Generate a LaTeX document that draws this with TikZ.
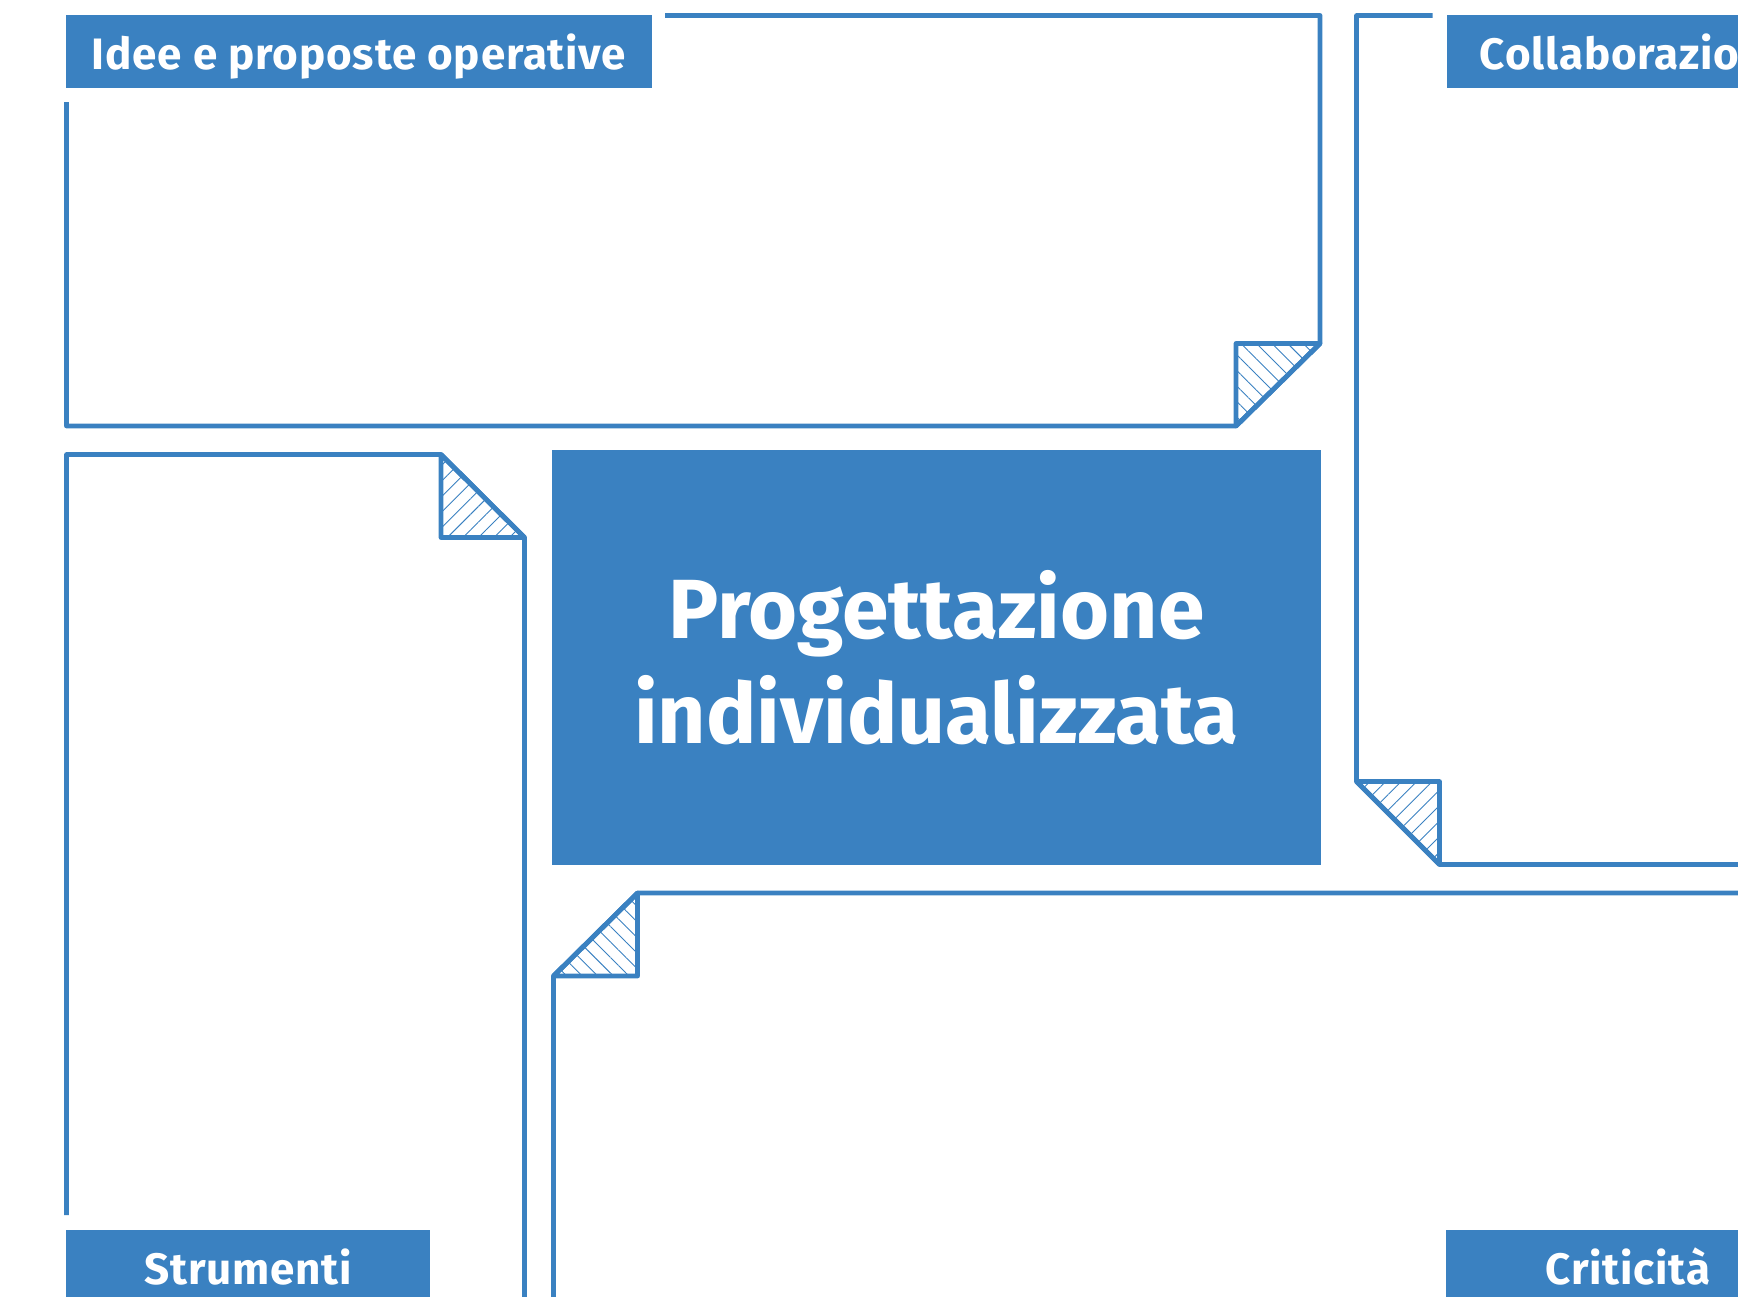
\documentclass[tikz,border=0pt]{standalone}
\usepackage{fontspec}
\setmainfont{Fira Sans}
\newfontfamily\tagfont{Fira Sans}[LetterSpace=1.8]
\usepackage{xcolor}
\usetikzlibrary{positioning, patterns.meta}
\definecolor{planblue}{RGB}{58,129,193}

\begin{document}
\begin{tikzpicture}[x=0.5pt, y=-0.5pt,
    sheet/.style={draw=planblue, line width=2.4pt, line join=round},
    corner/.style={sheet, pattern={Lines[angle=#1, distance=5.5pt, line width=0.45pt]}, pattern color=planblue},
    tag/.style={fill=planblue, text=white, inner sep=0pt, minimum height=36.5pt,
        text height=20pt, text depth=2pt, font=\tagfont\fontsize{22}{26}\selectfont\bfseries},
    ]
    \useasboundingbox (0,0) rectangle (1738,1296);
    \clip (0,0) rectangle (1738,1296);

    % top sheet
    \draw[sheet] (665,15.5) -- (1320,15.5) -- (1320,343.5) -- (1236,426) -- (66.5,426) -- (66.5,102);
    \draw[corner=-45] (1320,343.5) -- (1236,343.5) -- (1236,426) -- cycle;

    % left sheet
    \draw[sheet] (66.5,1215) -- (66.5,454.5) -- (441,454.5) -- (524.5,537.5) -- (524.5,1310);
    \draw[corner=45] (441,454.5) -- (441,537.5) -- (524.5,537.5) -- cycle;

    % right sheet
    \draw[sheet] (1432.5,15.5) -- (1356.5,15.5) -- (1356.5,781.5) -- (1439.5,864.5) -- (1760,864.5);
    \draw[corner=45] (1356.5,781.5) -- (1439.5,781.5) -- (1439.5,864.5) -- cycle;

    % bottom sheet
    \draw[sheet] (1760,893) -- (637.5,893) -- (553.5,976) -- (553.5,1310);
    \draw[corner=-45] (637.5,893) -- (637.5,976) -- (553.5,976) -- cycle;

    \node[fill=planblue, text=white, minimum width=384.5pt, minimum height=207.25pt, align=center,
        font=\fontsize{42}{52.8}\selectfont\bfseries] (main) at (936.5,657.5) {Progettazione\\individualizzata};

    \node[tag, minimum width=292.6pt] (idee) at (359,51) {Idee e proposte operative};
    \node[tag, anchor=west, inner xsep=16.5pt, text width=180pt, align=left] (collab) at (1446.5,51) {Collaborazio};
    \node[tag, minimum width=182pt, anchor=north] (strum) at (248.25,1230) {Strumenti};
    \node[tag, minimum width=182pt, anchor=north] (crit) at (1628,1230) {Criticità};
\end{tikzpicture}
\end{document}
